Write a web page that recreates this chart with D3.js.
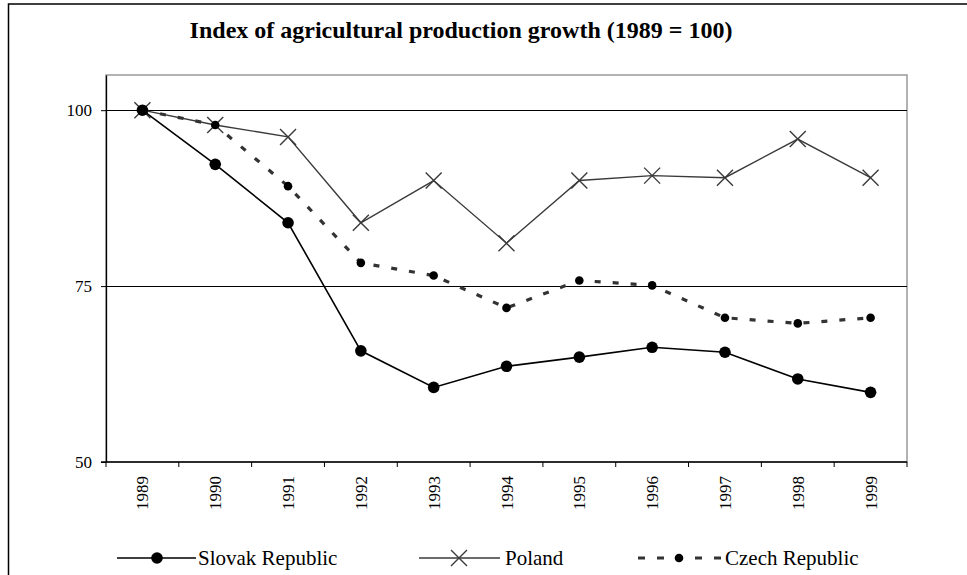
<!DOCTYPE html>
<html>
<head>
<meta charset="utf-8">
<script src="https://cdn.jsdelivr.net/npm/d3@7"></script>
<style>
  body { margin: 0; background: #fff; }
</style>
</head>
<body>
<script>
var years = ["1989", "1990", "1991", "1992", "1993", "1994", "1995", "1996", "1997", "1998", "1999"];
var slovak = [100, 92.3, 84.0, 65.8, 60.6, 63.6, 64.9, 66.3, 65.6, 61.8, 59.9];
var poland = [100, 97.9, 96.2, 84.0, 90.0, 81.1, 90.0, 90.7, 90.4, 95.9, 90.4];
var czech = [100, 97.9, 89.2, 78.3, 76.5, 71.9, 75.8, 75.1, 70.5, 69.7, 70.5];
var yTicks = [50, 75, 100];
var seriesNames = ["Slovak Republic", "Poland", "Czech Republic"];

var width = 967, height = 575;
var margin = {top: 75, right: 60, bottom: 113, left: 106};
var serif = "'Liberation Serif', 'Times New Roman', serif";

var svg = d3.select("body").append("svg")
    .attr("width", width)
    .attr("height", height)
    .attr("font-family", serif);

// outer frame
svg.append("rect")
    .attr("x", 8.5).attr("y", 4)
    .attr("width", 1000).attr("height", 1000)
    .attr("fill", "none")
    .attr("stroke", "#000")
    .attr("stroke-width", 1.5);

svg.append("text")
    .attr("x", 461).attr("y", 38)
    .attr("text-anchor", "middle")
    .attr("font-family", serif)
    .attr("font-size", 24)
    .attr("font-weight", "bold")
    .text("Index of agricultural production growth (1989 = 100)");

var x = d3.scaleBand()
    .domain(years)
    .range([margin.left, width - margin.right]);

var y = d3.scaleLinear()
    .domain([50, 105])
    .range([height - margin.bottom, margin.top]);

var g = svg.append("g");

// plot box (grey top/right)
g.append("rect")
    .attr("x", margin.left).attr("y", y(105))
    .attr("width", x.range()[1] - margin.left)
    .attr("height", y(50) - y(105))
    .attr("fill", "none")
    .attr("stroke", "#999")
    .attr("stroke-width", 1.5);

// gridlines
g.selectAll(".grid").data(yTicks.slice(1)).enter().append("line")
    .attr("x1", margin.left).attr("x2", x.range()[1])
    .attr("y1", function(d) { return Math.round(y(d)) + 0.5; })
    .attr("y2", function(d) { return Math.round(y(d)) + 0.5; })
    .attr("stroke", "#000");

// y axis
var axisY = g.append("g")
    .attr("transform", "translate(" + margin.left + ",0)")
    .call(d3.axisLeft(y).tickValues(yTicks).tickSize(5).tickSizeOuter(0).tickPadding(9));
axisY.attr("font-family", serif).attr("font-size", 17);
axisY.select(".domain").attr("stroke", "#000").attr("stroke-width", 1.3);

// x axis: ticks at band edges
var axisX = g.append("g")
    .attr("transform", "translate(0," + y(50) + ")");
axisX.append("line")
    .attr("x1", margin.left - 5).attr("x2", x.range()[1])
    .attr("stroke", "#000").attr("stroke-width", 1.5);
axisX.selectAll(".tk").data(years.concat(["end"])).enter().append("line")
    .attr("x1", function(d, i) { return i < years.length ? x(d) : x.range()[1]; })
    .attr("x2", function(d, i) { return i < years.length ? x(d) : x.range()[1]; })
    .attr("y1", 0).attr("y2", 5)
    .attr("stroke", "#000");
axisX.selectAll(".lbl").data(years).enter().append("text")
    .attr("transform", function(d) {
        return "translate(" + (x(d) + x.bandwidth() / 2 + 6) + ",14) rotate(-90)";
    })
    .attr("text-anchor", "end")
    .attr("font-family", serif)
    .attr("font-size", 17)
    .text(function(d) { return d; });

var line = d3.line()
    .x(function(d, i) { return x(years[i]) + x.bandwidth() / 2; })
    .y(function(d) { return y(d); });

// Poland
g.append("path").datum(poland)
    .attr("d", line).attr("fill", "none")
    .attr("stroke", "#3a3a3a").attr("stroke-width", 1.4);

function crosses(sel, data, cx, cy, s) {
    sel.selectAll(null).data(data).enter().append("path")
        .attr("d", function(d, i) {
            var px = cx(d, i), py = cy(d, i);
            return "M" + (px - s) + "," + (py - s) + "L" + (px + s) + "," + (py + s) +
                "M" + (px - s) + "," + (py + s) + "L" + (px + s) + "," + (py - s);
        })
        .attr("stroke", "#3a3a3a").attr("stroke-width", 1.4).attr("fill", "none");
}
crosses(g, poland, function(d, i) { return x(years[i]) + x.bandwidth() / 2; }, function(d) { return y(d); }, 8);

// Czech
g.append("path").datum(czech)
    .attr("d", line).attr("fill", "none")
    .attr("stroke", "#333").attr("stroke-width", 3.2)
    .attr("stroke-dasharray", "6,12");
g.selectAll(".cz").data(czech).enter().append("circle")
    .attr("cx", function(d, i) { return x(years[i]) + x.bandwidth() / 2; })
    .attr("cy", function(d) { return y(d); })
    .attr("r", 4.3).attr("fill", "#000");

// Slovak
g.append("path").datum(slovak)
    .attr("d", line).attr("fill", "none")
    .attr("stroke", "#000").attr("stroke-width", 1.6);
g.selectAll(".sk").data(slovak).enter().append("circle")
    .attr("cx", function(d, i) { return x(years[i]) + x.bandwidth() / 2; })
    .attr("cy", function(d) { return y(d); })
    .attr("r", 5.8).attr("fill", "#000");

// legend
var ly = 558;
var leg = svg.append("g").attr("font-family", serif).attr("font-size", 21);
leg.append("line").attr("x1", 117).attr("x2", 196).attr("y1", ly).attr("y2", ly)
    .attr("stroke", "#000").attr("stroke-width", 1.6);
leg.append("circle").attr("cx", 157).attr("cy", ly).attr("r", 5.8).attr("fill", "#000");
leg.append("text").attr("x", 198).attr("y", ly + 7).text(seriesNames[0]);

leg.append("line").attr("x1", 419).attr("x2", 500).attr("y1", ly).attr("y2", ly)
    .attr("stroke", "#3a3a3a").attr("stroke-width", 1.4);
crosses(leg, [0], function() { return 459; }, function() { return ly; }, 8);
leg.append("text").attr("x", 505).attr("y", ly + 7).text(seriesNames[1]);

leg.append("line").attr("x1", 638).attr("x2", 726).attr("y1", ly).attr("y2", ly)
    .attr("stroke", "#333").attr("stroke-width", 3.2)
    .attr("stroke-dasharray", "7,12");
leg.append("circle").attr("cx", 679).attr("cy", ly).attr("r", 4.3).attr("fill", "#000");
leg.append("text").attr("x", 725).attr("y", ly + 7).text(seriesNames[2]);
</script>
</body>
</html>
